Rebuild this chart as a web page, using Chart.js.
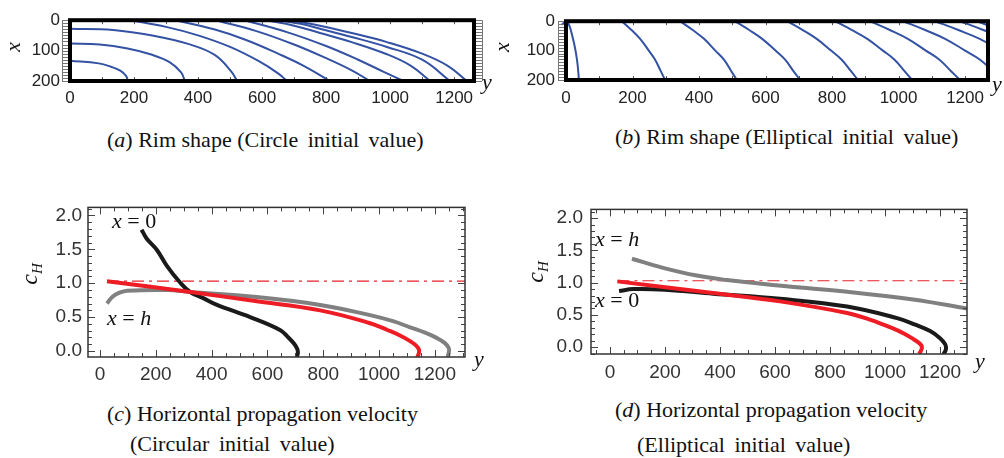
<!DOCTYPE html>
<html><head><meta charset="utf-8">
<script src="https://cdn.jsdelivr.net/npm/chart.js@4.4.1/dist/chart.umd.min.js"></script>
<style>
html,body{margin:0;padding:0;background:#fff;width:1004px;height:458px;overflow:hidden;position:relative;}
.box{position:absolute;}
.t{position:absolute;font-family:"Liberation Serif","Times New Roman",serif;font-size:22px;line-height:22px;white-space:nowrap;color:#111;}
.ws{word-spacing:4px;}
.rot{position:absolute;transform:translate(-50%,-50%) rotate(-90deg);font-family:"Liberation Serif","Times New Roman",serif;font-style:italic;white-space:nowrap;color:#111;line-height:1;}
.ctr{position:absolute;transform:translate(-50%,-50%);font-family:"Liberation Serif","Times New Roman",serif;font-style:italic;white-space:nowrap;color:#111;line-height:1;}
</style></head><body>
<div class="box" style="left:0;top:0;width:500px;height:110px"><canvas id="ca"></canvas></div>
<div class="box" style="left:500px;top:0;width:504px;height:110px"><canvas id="cb"></canvas></div>
<div class="box" style="left:0;top:190px;width:500px;height:200px"><canvas id="cc"></canvas></div>
<div class="box" style="left:500px;top:190px;width:504px;height:200px"><canvas id="cd"></canvas></div>

<div class="rot" style="left:13px;top:47px;font-size:22px">x</div>
<div class="ctr" style="left:487px;top:82px;font-size:22px">y</div>
<div class="rot" style="left:502px;top:47px;font-size:22px">x</div>
<div class="ctr" style="left:997px;top:84px;font-size:22px">y</div>
<div class="rot" style="left:31px;top:274px;font-size:24px">c<sub style="font-size:15px">H</sub></div>
<div class="rot" style="left:537px;top:272px;font-size:24px">c<sub style="font-size:15px">H</sub></div>
<div class="ctr" style="left:479px;top:359px;font-size:22px">y</div>
<div class="ctr" style="left:980px;top:361px;font-size:22px">y</div>

<div class="t" style="left:112px;top:210px"><i>x</i> = 0</div>
<div class="t" style="left:107px;top:307px"><i>x</i> = <i>h</i></div>
<div class="t" style="left:595px;top:228px"><i>x</i> = <i>h</i></div>
<div class="t" style="left:595px;top:289px"><i>x</i> = 0</div>

<div class="t" style="left:107px;top:129px">(<i>a</i>) Rim shape <span class="ws">(Circle initial value)</span></div>
<div class="t" style="left:615px;top:126px">(<i>b</i>) Rim shape <span class="ws">(Elliptical initial value)</span></div>
<div class="t" style="left:107px;top:403px">(<i>c</i>) Horizontal propagation velocity</div>
<div class="t" style="left:130px;top:433px" ><span class="ws">(Circular initial value)</span></div>
<div class="t" style="left:615px;top:399px">(<i>d</i>) Horizontal propagation velocity</div>
<div class="t" style="left:637px;top:434px"><span class="ws">(Elliptical initial value)</span></div>

<script>
// ---------- DATA ----------
// Tick labels
const rimXTicks = [0, 200, 400, 600, 800, 1000, 1200];
const rimYTicks = [0, 100, 200];
const velXTicks = [0, 200, 400, 600, 800, 1000, 1200];
const velYTicks = [0, 0.5, 1, 1.5, 2];

// Panel (a): rim shape, circle initial value. Points are [y, x].
const rimA1 = [[0,133],[90,142],[128,153],[157,166],[175,183],[181,200]];
const rimA2 = [[0,77],[93,80],[180,93],[254,113],[311,138],[347,172],[359,200]];
const rimA3 = [[0,28],[135,32],[261,51],[369,78],[452,114],[504,169],[522,200]];
const rimA4 = [[188,0],[300,22],[400,50],[500,88],[590,135],[650,175],[678,200]];
const rimA5 = [[330,0],[450,30],[550,65],[650,110],[730,150],[812,200]];
const rimA6 = [[455,0],[580,35],[700,80],[800,125],[880,165],[937,200]];
const rimA7 = [[545,0],[680,40],[800,85],[900,130],[980,170],[1041,200]];
const rimA8 = [[610,0],[700,18],[781,42],[880,72],[990,112],[1065,150],[1125,200]];
const rimA9 = [[650,0],[720,12],[781,28],[880,55],[990,88],[1100,130],[1187,200]];
const rimA10 = [[690,0],[781,18],[880,42],[990,72],[1100,110],[1180,150],[1240,200]];

// Panel (b): rim shape, elliptical initial value. Points are [y, x].
const rimB0 = [[-27,72],[-24,30],[-12,12],[3,0],[21,60],[33,131],[39,200]];
const rimB1 = [[168,0],[197,30],[223,60],[249,100],[268,131],[285,170],[298,200]];
const rimB2 = [[343,0],[381,30],[415,60],[449,100],[475,131],[497,170],[514,200]];
const rimB3 = [[508,0],[551,30],[590,60],[630,100],[659,131],[684,170],[704,200]];
const rimB4 = [[665,0],[712,30],[754,60],[797,100],[829,131],[857,170],[878,200]];
const rimB5 = [[809,0],[860,30],[906,60],[953,100],[988,131],[1018,170],[1041,200]];
const rimB6 = [[914,0],[974,30],[1028,60],[1082,100],[1123,131],[1158,170],[1185,200]];
const rimB7 = [[1014,0],[1080,30],[1140,60],[1200,100],[1245,131],[1284,170],[1314,200]];
const rimB8 = [[1110,0],[1180,30],[1244,60],[1308,100]];
const rimB9 = [[1185,0],[1255,30],[1320,60]];
const rimB10 = [[1236,0],[1306,30]];

// Panel (c): horizontal propagation velocity, circular initial value. Points are [y, cH].
const velC_x0 = [[149,1.79],[167,1.66],[204,1.49],[239,1.26],[287,1.01],[323,0.87],[370,0.78],[419,0.68],[538,0.50],[645,0.31],[675,0.20],[695,0.11],[707,0.03],[709,-0.03],[705,-0.09]];
const velC_xh = [[25,0.70],[45,0.80],[70,0.86],[97,0.89],[240,0.90],[324,0.87],[550,0.80],[789,0.68],[968,0.53],[1050,0.44],[1111,0.35],[1165,0.27],[1208,0.19],[1235,0.12],[1249,0.05],[1251,0.0],[1246,-0.09]];
const velC_red = [[25,1.03],[324,0.87],[550,0.74],[789,0.60],[968,0.41],[1030,0.31],[1075,0.23],[1110,0.15],[1133,0.08],[1143,0.02],[1142,-0.04],[1137,-0.09]];
const velC_ref = [[25,1.03],[1308,1.03]];

// Panel (d): horizontal propagation velocity, elliptical initial value. Points are [y, cH].
const velD_xh = [[80,1.37],[193,1.23],[316,1.11],[425,1.04],[535,0.99],[650,0.94],[862,0.86],[1102,0.74],[1298,0.60]];
const velD_x0 = [[33,0.87],[85,0.90],[200,0.89],[375,0.83],[618,0.75],[862,0.63],[1044,0.45],[1110,0.35],[1164,0.25],[1200,0.14],[1218,0.05],[1222,-0.01],[1219,-0.06],[1212,-0.11]];
const velD_red = [[27,1.02],[375,0.84],[618,0.71],[862,0.53],[950,0.42],[1018,0.31],[1070,0.21],[1105,0.12],[1128,0.05],[1134,0.0],[1131,-0.05],[1124,-0.10]];
const velD_ref = [[27,1.03],[1298,1.03]];

// ---------- DRAWING ----------
const pts = arr => arr.map(([a, b]) => ({x: a, y: b}));

const framePlugin = {
  id: 'frame',
  afterDatasetsDraw(chart, args, o) {
    const {ctx, chartArea: a} = chart;
    const xs = chart.scales.x, ys = chart.scales.y;
    ctx.save();
    const seg = (x1, y1, x2, y2) => { ctx.beginPath(); ctx.moveTo(x1, y1); ctx.lineTo(x2, y2); ctx.stroke(); };
    const each = (sc, step, f) => {
      const lo = Math.min(sc.min, sc.max), hi = Math.max(sc.min, sc.max);
      const i0 = Math.ceil(lo / step - 1e-9), i1 = Math.floor(hi / step + 1e-9);
      for (let i = i0; i <= i1; i++) f(Math.round(sc.getPixelForValue(i * step)) + 0.5, i);
    };
    ctx.strokeStyle = o.tickColor; ctx.lineWidth = 1;
    if (o.xStep) each(xs, o.xStep, (p, i) => {
      const L = (o.xMajorEvery && i % o.xMajorEvery === 0) ? o.majorLen : o.minorLen;
      seg(p, a.top, p, a.top + L); seg(p, a.bottom, p, a.bottom - L);
    });
    if (o.yStep) each(ys, o.yStep, (p, i) => {
      const L = (o.yMajorEvery && i % o.yMajorEvery === 0) ? o.majorLen : o.minorLen;
      seg(a.left, p, a.left + L, p); seg(a.right, p, a.right - L, p);
    });
    if (o.comb) {
      ctx.strokeStyle = o.combColor;
      const fw = o.frameWidth / 2;
      const sides = o.comb === 'both' ? ['l', 'r'] : ['l'];
      sides.forEach(s => {
        const x0 = s === 'l' ? a.left - fw : a.right + fw;
        const x1 = s === 'l' ? x0 - o.combLen : x0 + o.combLen;
        each(ys, o.combStep, p => seg(x0, p, x1, p));
        seg(x1 + 0.5, a.top, x1 + 0.5, a.bottom);
      });
    }
    ctx.strokeStyle = o.frameColor; ctx.lineWidth = o.frameWidth;
    ctx.strokeRect(a.left, a.top, a.right - a.left, a.bottom - a.top);
    ctx.restore();
  }
};
Chart.register(framePlugin);

function makeChart(id, cfg) {
  const axisFont = {family: '"Liberation Sans", Arial, sans-serif', size: cfg.fontSize};
  return new Chart(document.getElementById(id), {
    type: 'scatter',
    data: {datasets: cfg.datasets},
    options: {
      responsive: true, maintainAspectRatio: false, animation: false,
      layout: {padding: cfg.padding, autoPadding: false},
      plugins: {legend: {display: false}, tooltip: {enabled: false}, frame: cfg.frame},
      elements: {point: {radius: 0}},
      scales: {
        x: {type: 'linear', min: cfg.xMin, max: cfg.xMax,
            grid: {display: false, drawTicks: false}, border: {display: false},
            ticks: {padding: cfg.xPad, color: cfg.tickColor, font: axisFont, maxRotation: 0, autoSkip: false, callback: v => String(v)},
            afterBuildTicks: s => { s.ticks = cfg.xTicks.map(v => ({value: v})); },
            afterFit: s => { s.height = cfg.xH; }},
        y: {type: 'linear', min: cfg.yMin, max: cfg.yMax, reverse: !!cfg.yReverse,
            grid: {display: false, drawTicks: false}, border: {display: false},
            ticks: {padding: cfg.yPad, color: cfg.tickColor, font: axisFont, autoSkip: false, callback: cfg.yFmt},
            afterBuildTicks: s => { s.ticks = cfg.yTicks.map(v => ({value: v})); },
            afterFit: s => { s.width = cfg.yW; }}
      }
    }
  });
}

const blue = '#3452a3';
const rimDs = (arr, extra) => Object.assign({data: pts(arr), showLine: true, borderColor: blue, borderWidth: 2, tension: 0.4, pointRadius: 0, fill: false}, extra || {});
const rimFrame = (comb) => ({frameWidth: 4, frameColor: '#000', tickColor: '#555', xStep: 100, minorLen: 4, majorLen: 4,
  comb: comb, combStep: 10, combLen: 6, combColor: '#777'});

makeChart('ca', {
  datasets: [rimA1, rimA2, rimA3, rimA4, rimA5, rimA6, rimA7, rimA8, rimA9, rimA10].map(a => rimDs(a)),
  padding: {left: 0, top: 13, right: 26, bottom: 0},
  xMin: 0, xMax: 1262, yMin: 0, yMax: 200, yReverse: true,
  xTicks: rimXTicks, yTicks: rimYTicks, xH: 29, yW: 70, xPad: 7, yPad: 10,
  fontSize: 17, tickColor: '#222', yFmt: v => String(v),
  frame: rimFrame('both')
});

makeChart('cb', {
  datasets: [rimDs(rimB0, {clip: false})].concat([rimB1, rimB2, rimB3, rimB4, rimB5, rimB6, rimB7, rimB8, rimB9, rimB10].map(a => rimDs(a))),
  padding: {left: 0, top: 13, right: 16, bottom: 0},
  xMin: 0, xMax: 1269, yMin: 0, yMax: 200, yReverse: true,
  xTicks: rimXTicks, yTicks: rimYTicks, xH: 30, yW: 66, xPad: 8, yPad: 11,
  fontSize: 17, tickColor: '#222', yFmt: v => String(v),
  frame: rimFrame('left')
});

const velFrame = {frameWidth: 1.5, frameColor: '#333', tickColor: '#444', xStep: 50, xMajorEvery: 4, yStep: 0.1, yMajorEvery: 5, majorLen: 7, minorLen: 4};
const thick = (arr, color) => ({data: pts(arr), showLine: true, borderColor: color, borderWidth: 4, tension: 0.4, pointRadius: 0, fill: false});
const dashed = arr => ({data: pts(arr), showLine: true, borderColor: '#e8202a', borderWidth: 1.2, borderDash: [12, 5, 3, 5], pointRadius: 0, fill: false});

makeChart('cc', {
  datasets: [thick(velC_red, '#ee1c24'), thick(velC_x0, '#1a1a1a'), thick(velC_xh, '#808080'), dashed(velC_ref)],
  padding: {left: 0, top: 17, right: 35, bottom: 0},
  xMin: -43, xMax: 1308, yMin: -0.088, yMax: 2.118,
  xTicks: velXTicks, yTicks: velYTicks, xH: 33, yW: 88, xPad: 6, yPad: 6,
  fontSize: 19, tickColor: '#333', yFmt: v => v.toFixed(1),
  frame: velFrame
});

makeChart('cd', {
  datasets: [thick(velD_red, '#ee1c24'), thick(velD_x0, '#1a1a1a'), thick(velD_xh, '#808080'), dashed(velD_ref)],
  padding: {left: 0, top: 15, right: 37, bottom: 0},
  xMin: -69, xMax: 1298, yMin: -0.105, yMax: 2.135,
  xTicks: velXTicks, yTicks: velYTicks, xH: 36, yW: 91, xPad: 7, yPad: 8,
  fontSize: 19, tickColor: '#333', yFmt: v => v.toFixed(1),
  frame: velFrame
});
</script>
</body></html>
